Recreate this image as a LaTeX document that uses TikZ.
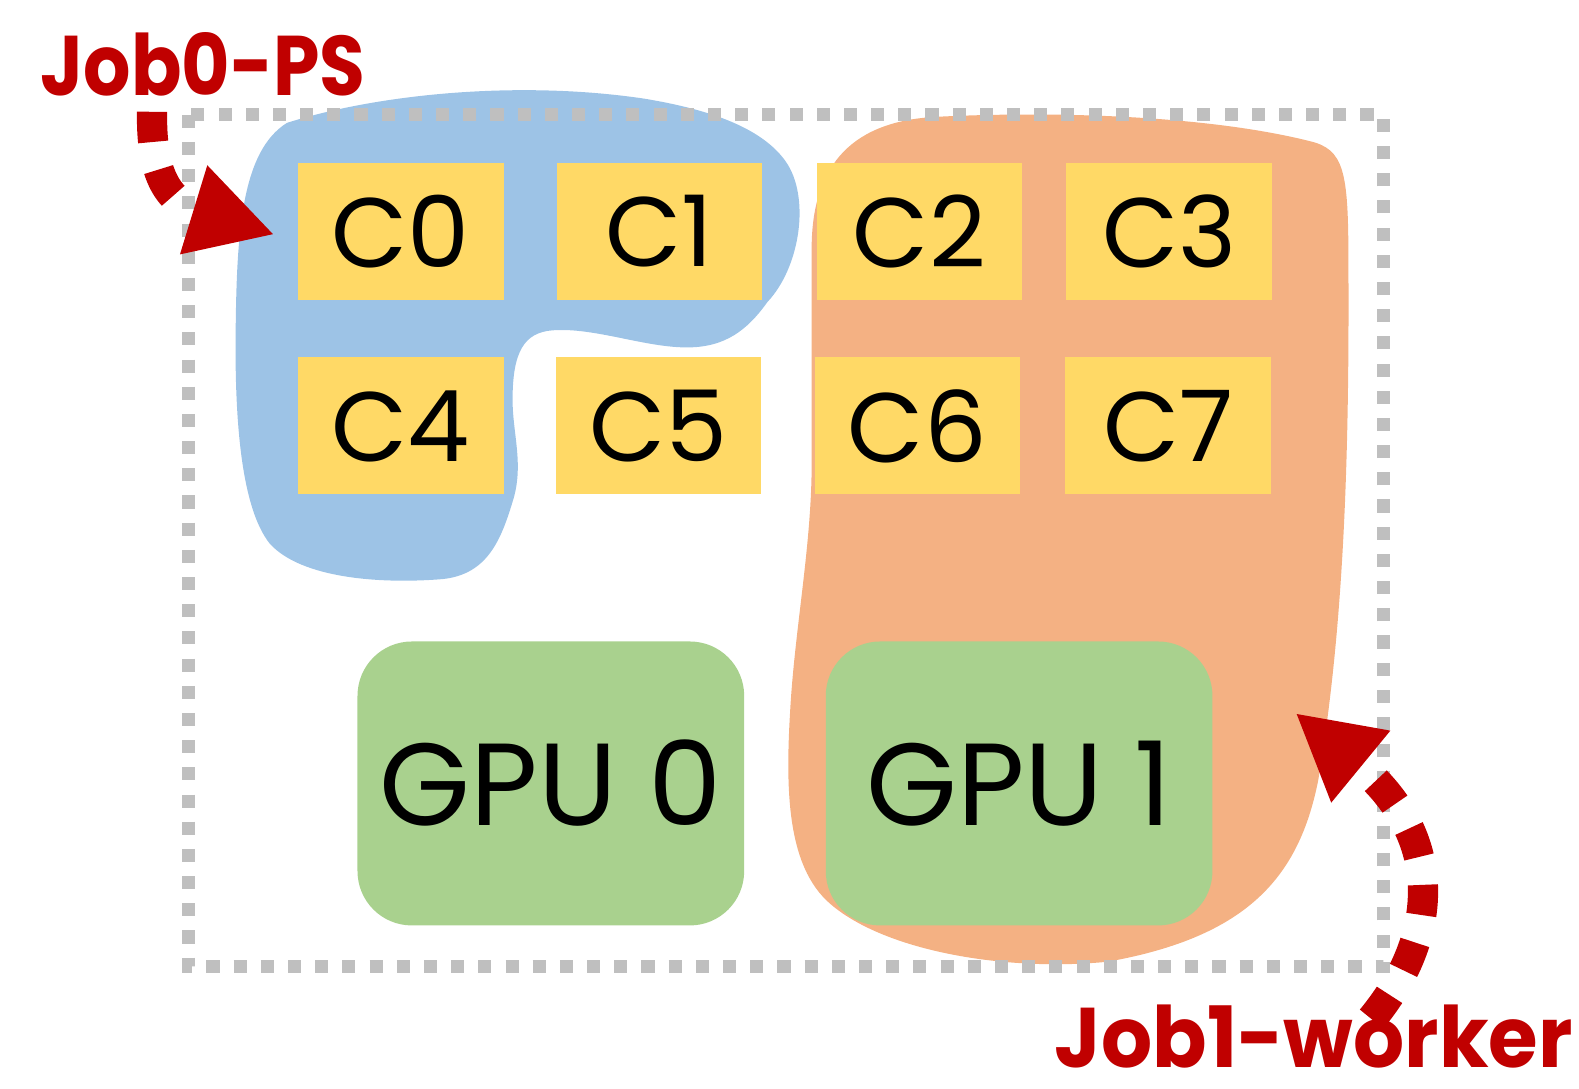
\documentclass[tikz,border=0pt]{standalone}
\usepackage{fontspec}
\setmainfont{Poppins}
\newfontfamily\jobfont{Poppins}[FakeStretch=0.88]
\newfontfamily\jobwidefont{Poppins}[FakeStretch=0.95]
\usetikzlibrary{calc}
\usetikzlibrary{arrows.meta}
\definecolor{psblue}{HTML}{9DC3E6}
\definecolor{wkorange}{HTML}{F4B183}
\definecolor{coreyellow}{HTML}{FFD966}
\definecolor{gpugreen}{HTML}{A9D18E}
\definecolor{jobred}{HTML}{C00000}
\definecolor{boxgray}{HTML}{BFBFBF}
\def\CoreW{102pt}
\def\CoreH{68pt}
\def\GpuW{192pt}
\def\GpuH{141pt}
\tikzset{
  core/.style={fill=coreyellow, minimum width=\CoreW, minimum height=\CoreH,
    inner sep=0pt, font=\fontsize{49}{49}\selectfont},
  gpu/.style={fill=gpugreen, rounded corners=27pt, minimum width=\GpuW,
    minimum height=\GpuH, inner sep=0pt, font=\fontsize{58}{58}\selectfont},
  joblabel/.style={text=jobred, inner sep=0pt, font=\jobfont\fontsize{42}{42}\selectfont\bfseries},
  jobarrow/.style={jobred, line width=15pt, dash pattern=on 15pt off 14pt,
    -{Triangle[length=42pt,width=43pt]}}
}

\begin{document}
\begin{tikzpicture}[x=0.5pt,y=-0.5pt]
  \useasboundingbox (0,0) rectangle (1568,1081);
  % job0 parameter server
  \fill [psblue] (285,122) .. controls (380,92) and (520,80) .. (640,98)
    .. controls (700,108) and (755,125) .. (780,160)
    .. controls (805,195) and (795,265) .. (762,300)
    .. controls (742,328) and (720,345) .. (682,345)
    .. controls (640,345) and (590,325) .. (549,328)
    .. controls (520,330) and (509,350) .. (509,397)
    .. controls (509,430) and (520,460) .. (510,495)
    .. controls (498,535) and (485,570) .. (440,575)
    .. controls (380,580) and (300,575) .. (268,540)
    .. controls (240,505) and (233,420) .. (234,330)
    .. controls (235,230) and (240,150) .. (285,122) -- cycle;
  % job1 worker
  \fill [wkorange] (806,250) .. controls (805,160) and (850,120) .. (930,116)
    .. controls (1050,110) and (1200,115) .. (1300,140)
    .. controls (1335,148) and (1339,170) .. (1339,260)
    .. controls (1340,450) and (1335,620) .. (1309,775)
    .. controls (1290,870) and (1240,930) .. (1100,955)
    .. controls (1000,965) and (880,945) .. (825,898)
    .. controls (780,860) and (780,780) .. (785,700)
    .. controls (790,620) and (806,540) .. (806,460)
    .. controls (806,380) and (806,320) .. (806,250) -- cycle;
  % machine
  \draw [boxgray, line width=6.5pt, dash pattern=on 6.5pt off 7pt]
    (187,114) rectangle (1374,960);
  % cores
  \foreach \i/\x/\y in {0/398/230, 1/655/230, 2/913/230, 3/1161/230,
                        4/398/423, 5/654/423, 6/911/423, 7/1160/423}
    {
      \node [core] (c\i) at (\x,\y) {C\i};
    }
  % gpus
  \node [gpu] (gpu0) at (547,778) {GPU 0};
  \node [gpu] (gpu1) at (1012,778) {GPU 1};
  % labels
  \node [joblabel, anchor=base west] (job0) at (40,95) {Job0-PS};
  \node [joblabel, anchor=base east, font=\jobwidefont\fontsize{42}{42}\selectfont\bfseries]
    (job1) at (1562,1060) {Job1-worker};
  % arrows
  \coordinate (a0) at (151,111);
  \coordinate (b0) at ($ (c0.west) + (-23,3) $);
  \draw [jobarrow] (a0) .. controls (150,170) and (165,200) .. (b0);
  \coordinate (a1) at (1362,1012);
  \coordinate (b1) at ($ (gpu1.east) + (82,-70) $);
  \draw [jobarrow] (a1) .. controls (1430,930) and (1435,830) .. (b1);
\end{tikzpicture}
\end{document}
